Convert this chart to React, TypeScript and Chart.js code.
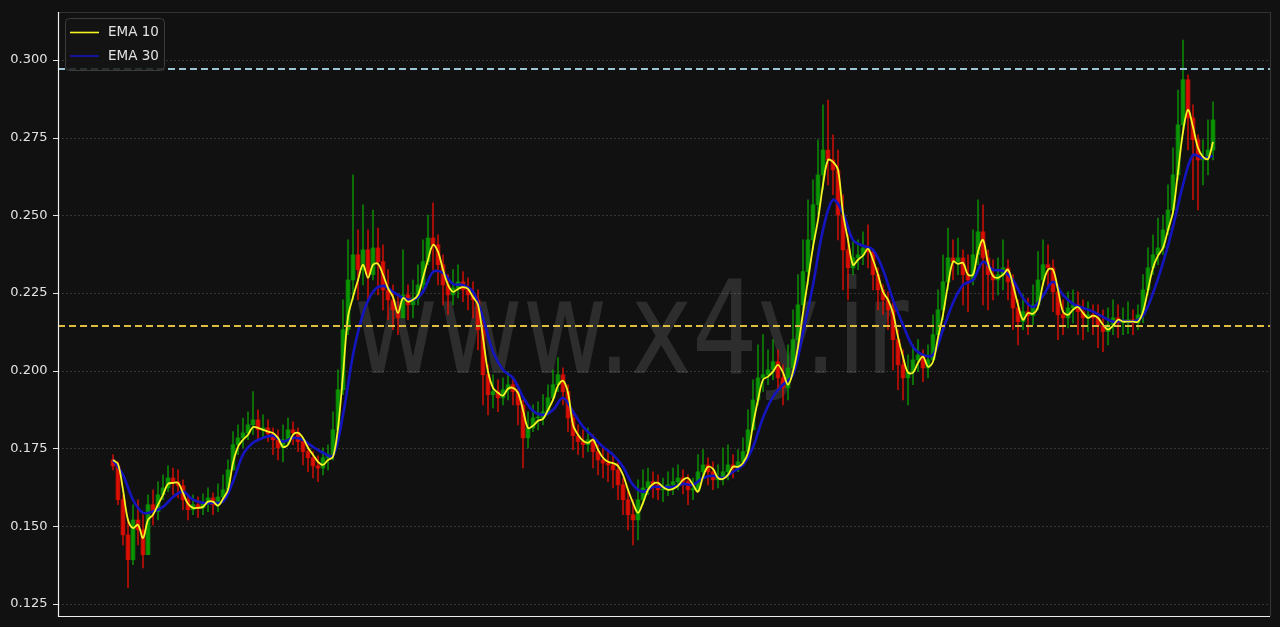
import { useEffect, useRef } from "react";
import { Chart, registerables } from "chart.js";

Chart.register(...registerables);

// One candle per session (0.0001 precision)
const opens = [
  0.1713,0.1694,0.1585,0.1472,0.1392,0.1520,0.1488,0.1408,0.1569,0.1547,
  0.1601,0.1623,0.1655,0.1643,0.1630,0.1585,0.1553,0.1569,0.1559,0.1575,
  0.1591,0.1569,0.1594,0.1617,0.1681,0.1762,0.1784,0.1800,0.1826,0.1842,
  0.1810,0.1816,0.1797,0.1778,0.1752,0.1778,0.1810,0.1800,0.1772,0.1740,
  0.1720,0.1694,0.1687,0.1720,0.1730,0.1810,0.1939,0.2132,0.2292,0.2373,
  0.2325,0.2389,0.2309,0.2395,0.2351,0.2260,0.2228,0.2196,0.2170,0.2244,
  0.2212,0.2234,0.2276,0.2351,0.2427,0.2405,0.2341,0.2276,0.2244,0.2266,
  0.2286,0.2260,0.2244,0.2228,0.2132,0.1987,0.1923,0.1933,0.1913,0.1939,
  0.1955,0.1933,0.1890,0.1784,0.1816,0.1848,0.1848,0.1868,0.1913,0.1955,
  0.1987,0.1933,0.1848,0.1791,0.1772,0.1762,0.1778,0.1740,0.1713,0.1703,
  0.1697,0.1681,0.1633,0.1585,0.1537,0.1520,0.1585,0.1623,0.1643,0.1633,
  0.1617,0.1617,0.1633,0.1643,0.1655,0.1643,0.1617,0.1617,0.1675,0.1697,
  0.1675,0.1649,0.1655,0.1675,0.1697,0.1687,0.1707,0.1740,0.1810,0.1906,
  0.1977,0.1987,0.2003,0.2029,0.1977,0.1945,0.2009,0.2100,0.2212,0.2319,
  0.2421,0.2534,0.2630,0.2710,0.2678,0.2646,0.2501,0.2389,0.2331,0.2363,
  0.2373,0.2395,0.2383,0.2309,0.2260,0.2228,0.2196,0.2100,0.2019,0.1977,
  0.1997,0.2035,0.2051,0.2009,0.2035,0.2116,0.2196,0.2286,0.2363,0.2351,
  0.2363,0.2309,0.2292,0.2373,0.2447,0.2363,0.2309,0.2292,0.2309,0.2331,
  0.2286,0.2202,0.2158,0.2190,0.2177,0.2212,0.2292,0.2341,0.2331,0.2254,
  0.2180,0.2170,0.2202,0.2212,0.2190,0.2170,0.2180,0.2170,0.2145,0.2126,
  0.2148,0.2170,0.2154,0.2158,0.2164,0.2154,0.2180,0.2260,0.2331,0.2373,
  0.2395,0.2453,0.2517,0.2630,0.2791,0.2936,0.2813,0.2743,0.2678,0.2684,
  0.2710,
];

const highs = [
  0.1730,0.1707,0.1601,0.1520,0.1569,0.1585,0.1537,0.1601,0.1617,0.1643,
  0.1665,0.1694,0.1687,0.1681,0.1649,0.1601,0.1601,0.1594,0.1604,0.1623,
  0.1607,0.1636,0.1665,0.1713,0.1804,0.1826,0.1848,0.1868,0.1933,0.1874,
  0.1858,0.1842,0.1816,0.1810,0.1826,0.1848,0.1836,0.1816,0.1784,0.1762,
  0.1740,0.1726,0.1752,0.1762,0.1868,0.2003,0.2228,0.2421,0.2630,0.2453,
  0.2534,0.2453,0.2517,0.2459,0.2405,0.2325,0.2276,0.2244,0.2389,0.2276,
  0.2292,0.2341,0.2421,0.2501,0.2540,0.2437,0.2373,0.2309,0.2325,0.2341,
  0.2319,0.2299,0.2286,0.2260,0.2164,0.2019,0.1987,0.1971,0.1977,0.1997,
  0.1977,0.1955,0.1906,0.1868,0.1890,0.1900,0.1923,0.1955,0.2003,0.2042,
  0.2009,0.1955,0.1874,0.1826,0.1810,0.1816,0.1794,0.1762,0.1752,0.1746,
  0.1730,0.1707,0.1655,0.1617,0.1585,0.1649,0.1681,0.1687,0.1675,0.1665,
  0.1655,0.1675,0.1687,0.1697,0.1681,0.1665,0.1655,0.1730,0.1746,0.1720,
  0.1707,0.1697,0.1752,0.1762,0.1730,0.1746,0.1784,0.1874,0.1971,0.2083,
  0.2116,0.2067,0.2100,0.2067,0.2019,0.2083,0.2196,0.2309,0.2421,0.2550,
  0.2614,0.2743,0.2855,0.2871,0.2759,0.2710,0.2566,0.2437,0.2421,0.2421,
  0.2447,0.2469,0.2389,0.2331,0.2276,0.2254,0.2228,0.2132,0.2067,0.2051,
  0.2083,0.2100,0.2067,0.2083,0.2180,0.2260,0.2373,0.2459,0.2421,0.2427,
  0.2389,0.2373,0.2453,0.2550,0.2534,0.2389,0.2357,0.2363,0.2421,0.2357,
  0.2309,0.2228,0.2244,0.2234,0.2276,0.2383,0.2421,0.2405,0.2357,0.2276,
  0.2228,0.2254,0.2260,0.2254,0.2228,0.2222,0.2212,0.2212,0.2196,0.2202,
  0.2228,0.2212,0.2202,0.2222,0.2196,0.2212,0.2309,0.2395,0.2437,0.2491,
  0.2501,0.2598,0.2717,0.2903,0.3064,0.2952,0.2855,0.2759,0.2743,0.2807,
  0.2865,
];

const lows = [
  0.1681,0.1569,0.1440,0.1302,0.1376,0.1440,0.1366,0.1408,0.1504,0.1520,
  0.1585,0.1611,0.1601,0.1591,0.1553,0.1520,0.1537,0.1527,0.1537,0.1547,
  0.1537,0.1547,0.1585,0.1601,0.1681,0.1730,0.1752,0.1778,0.1794,0.1778,
  0.1784,0.1772,0.1730,0.1713,0.1707,0.1762,0.1762,0.1740,0.1697,0.1675,
  0.1655,0.1643,0.1665,0.1681,0.1713,0.1794,0.1923,0.2116,0.2228,0.2228,
  0.2276,0.2228,0.2292,0.2244,0.2196,0.2164,0.2132,0.2116,0.2170,0.2164,
  0.2170,0.2212,0.2260,0.2341,0.2325,0.2276,0.2212,0.2180,0.2212,0.2234,
  0.2222,0.2196,0.2170,0.2067,0.1890,0.1858,0.1880,0.1868,0.1890,0.1906,
  0.1890,0.1826,0.1687,0.1752,0.1804,0.1810,0.1826,0.1858,0.1906,0.1933,
  0.1890,0.1804,0.1746,0.1730,0.1720,0.1740,0.1687,0.1665,0.1655,0.1643,
  0.1623,0.1585,0.1537,0.1488,0.1440,0.1456,0.1569,0.1601,0.1591,0.1585,
  0.1579,0.1598,0.1601,0.1617,0.1604,0.1569,0.1585,0.1611,0.1655,0.1633,
  0.1617,0.1623,0.1633,0.1649,0.1655,0.1675,0.1697,0.1730,0.1810,0.1890,
  0.1933,0.1955,0.1971,0.1933,0.1890,0.1906,0.1997,0.2083,0.2196,0.2276,
  0.2389,0.2501,0.2582,0.2598,0.2566,0.2421,0.2260,0.2228,0.2309,0.2325,
  0.2341,0.2331,0.2260,0.2196,0.2180,0.2132,0.2003,0.1939,0.1906,0.1890,
  0.1955,0.1997,0.1965,0.1977,0.2035,0.2100,0.2164,0.2260,0.2292,0.2309,
  0.2212,0.2190,0.2276,0.2341,0.2212,0.2196,0.2228,0.2244,0.2260,0.2228,
  0.2132,0.2083,0.2132,0.2116,0.2148,0.2196,0.2276,0.2266,0.2190,0.2100,
  0.2116,0.2138,0.2154,0.2116,0.2100,0.2126,0.2116,0.2074,0.2061,0.2083,
  0.2116,0.2106,0.2116,0.2119,0.2116,0.2132,0.2154,0.2244,0.2309,0.2341,
  0.2373,0.2437,0.2501,0.2614,0.2775,0.2710,0.2550,0.2517,0.2598,0.2630,
  0.2678,
];

const closes = [
  0.1694,0.1585,0.1472,0.1392,0.1520,0.1488,0.1408,0.1569,0.1547,0.1601,
  0.1623,0.1655,0.1643,0.1630,0.1585,0.1553,0.1569,0.1559,0.1575,0.1591,
  0.1569,0.1594,0.1617,0.1681,0.1762,0.1784,0.1800,0.1826,0.1842,0.1810,
  0.1816,0.1797,0.1778,0.1752,0.1778,0.1810,0.1800,0.1772,0.1740,0.1720,
  0.1694,0.1687,0.1720,0.1730,0.1810,0.1939,0.2132,0.2292,0.2373,0.2325,
  0.2389,0.2309,0.2395,0.2351,0.2260,0.2228,0.2196,0.2170,0.2244,0.2212,
  0.2234,0.2276,0.2351,0.2427,0.2405,0.2341,0.2276,0.2244,0.2266,0.2286,
  0.2260,0.2244,0.2228,0.2132,0.1987,0.1923,0.1933,0.1913,0.1939,0.1955,
  0.1933,0.1890,0.1784,0.1816,0.1848,0.1848,0.1868,0.1913,0.1955,0.1987,
  0.1933,0.1848,0.1791,0.1772,0.1762,0.1778,0.1740,0.1713,0.1703,0.1697,
  0.1681,0.1633,0.1585,0.1537,0.1520,0.1585,0.1623,0.1643,0.1633,0.1617,
  0.1617,0.1633,0.1643,0.1655,0.1643,0.1617,0.1617,0.1675,0.1697,0.1675,
  0.1649,0.1655,0.1675,0.1697,0.1687,0.1707,0.1740,0.1810,0.1906,0.1977,
  0.1987,0.2003,0.2029,0.1977,0.1945,0.2009,0.2100,0.2212,0.2319,0.2421,
  0.2534,0.2630,0.2710,0.2678,0.2646,0.2501,0.2389,0.2331,0.2363,0.2373,
  0.2395,0.2383,0.2309,0.2260,0.2228,0.2196,0.2100,0.2019,0.1977,0.1997,
  0.2035,0.2051,0.2009,0.2035,0.2116,0.2196,0.2286,0.2363,0.2351,0.2363,
  0.2309,0.2292,0.2373,0.2447,0.2363,0.2309,0.2292,0.2309,0.2331,0.2286,
  0.2202,0.2158,0.2190,0.2177,0.2212,0.2292,0.2341,0.2331,0.2254,0.2180,
  0.2170,0.2202,0.2212,0.2190,0.2170,0.2180,0.2170,0.2145,0.2126,0.2148,
  0.2170,0.2154,0.2158,0.2164,0.2154,0.2180,0.2260,0.2331,0.2373,0.2395,
  0.2453,0.2517,0.2630,0.2791,0.2936,0.2813,0.2743,0.2678,0.2684,0.2710,
  0.2807,
];

// EMA 10, one value per session
const ema10 = [
  0.1713,0.1700,0.1617,0.1520,0.1494,0.1504,0.1462,0.1520,0.1537,0.1569,
  0.1601,0.1636,0.1639,0.1639,0.1607,0.1572,0.1559,0.1559,0.1562,0.1579,
  0.1579,0.1566,0.1588,0.1617,0.1703,0.1755,0.1778,0.1794,0.1819,0.1816,
  0.1810,0.1804,0.1800,0.1784,0.1755,0.1762,0.1794,0.1800,0.1784,0.1752,
  0.1730,0.1707,0.1697,0.1713,0.1723,0.1816,0.1987,0.2173,0.2237,0.2292,
  0.2341,0.2299,0.2341,0.2344,0.2309,0.2266,0.2237,0.2186,0.2234,0.2222,
  0.2228,0.2244,0.2299,0.2357,0.2405,0.2383,0.2325,0.2276,0.2254,0.2263,
  0.2269,0.2263,0.2237,0.2212,0.2106,0.1997,0.1945,0.1929,0.1920,0.1942,
  0.1945,0.1929,0.1874,0.1816,0.1823,0.1839,0.1845,0.1874,0.1906,0.1952,
  0.1968,0.1929,0.1826,0.1794,0.1775,0.1768,0.1778,0.1746,0.1720,0.1707,
  0.1703,0.1694,0.1665,0.1617,0.1575,0.1543,0.1575,0.1617,0.1636,0.1639,
  0.1626,0.1617,0.1620,0.1630,0.1649,0.1655,0.1633,0.1611,0.1659,0.1691,
  0.1684,0.1655,0.1652,0.1665,0.1691,0.1691,0.1703,0.1736,0.1826,0.1906,
  0.1971,0.1981,0.1997,0.2019,0.1994,0.1955,0.1997,0.2077,0.2186,0.2292,
  0.2398,0.2485,0.2598,0.2678,0.2672,0.2646,0.2507,0.2421,0.2341,0.2357,
  0.2370,0.2392,0.2357,0.2309,0.2254,0.2228,0.2186,0.2109,0.2045,0.1994,
  0.1994,0.2025,0.2045,0.2013,0.2029,0.2106,0.2180,0.2276,0.2351,0.2344,
  0.2347,0.2309,0.2309,0.2383,0.2421,0.2347,0.2305,0.2299,0.2309,0.2325,
  0.2276,0.2212,0.2164,0.2186,0.2183,0.2205,0.2279,0.2325,0.2325,0.2260,
  0.2190,0.2180,0.2196,0.2205,0.2186,0.2170,0.2177,0.2170,0.2148,0.2132,
  0.2145,0.2164,0.2158,0.2158,0.2158,0.2158,0.2190,0.2260,0.2331,0.2370,
  0.2395,0.2453,0.2511,0.2640,0.2768,0.2839,0.2784,0.2717,0.2688,0.2681,
  0.2736,
];

// EMA 30, one value every second session
const ema30Every = 2;
const ema30 = [
  0.1713,0.1665,0.1585,0.1543,0.1547,0.1562,0.1594,0.1611,0.1585,0.1575,
  0.1575,0.1579,0.1643,0.1730,0.1768,0.1784,0.1791,0.1772,0.1784,0.1778,
  0.1755,0.1736,0.1726,0.1858,0.2051,0.2183,0.2254,0.2273,0.2254,0.2234,
  0.2228,0.2254,0.2318,0.2315,0.2279,0.2276,0.2254,0.2170,0.2061,0.2003,
  0.1977,0.1916,0.1871,0.1858,0.1874,0.1913,0.1868,0.1820,0.1788,0.1755,
  0.1730,0.1691,0.1633,0.1611,0.1626,0.1626,0.1626,0.1636,0.1633,0.1655,
  0.1662,0.1655,0.1675,0.1697,0.1755,0.1849,0.1916,0.1955,0.1987,0.2122,
  0.2276,0.2453,0.2550,0.2507,0.2421,0.2402,0.2389,0.2325,0.2228,0.2148,
  0.2077,0.2051,0.2051,0.2132,0.2218,0.2276,0.2292,0.2350,0.2325,0.2321,
  0.2292,0.2234,0.2205,0.2241,0.2286,0.2244,0.2215,0.2202,0.2190,0.2173,
  0.2158,0.2161,0.2158,0.2177,0.2250,0.2347,0.2463,0.2598,0.2694,0.2684,
  0.2691,
];

const yTicks = [0.125, 0.15, 0.175, 0.2, 0.225, 0.25, 0.275, 0.3];
const resistanceLevel = 0.2971;
const supportLevel = 0.2144;
const watermarkText = "www.x4y.ir";

const BG = "#111111";
const TEXT = "#e2e2e2";
const FONT = "'DejaVu Sans', 'Liberation Sans', sans-serif";
const UP = "rgba(10, 160, 0, 0.8)";
const DOWN = "rgba(235, 15, 0, 0.8)";

const candleColor = (i: number) => (closes[i] >= opens[i] ? UP : DOWN);

const chromePlugin = {
  id: "chrome",
  beforeDraw(chart: any) {
    const { ctx, width, height } = chart;
    ctx.save();
    ctx.fillStyle = BG;
    ctx.fillRect(0, 0, width, height);
    ctx.restore();
  },
  beforeDatasetsDraw(chart: any) {
    const { ctx, chartArea: a, scales } = chart;
    const y = scales.y;
    ctx.save();
    // dotted horizontal grid
    ctx.strokeStyle = "rgba(255,255,255,0.2)";
    ctx.lineWidth = 0.8;
    ctx.setLineDash([2, 2]);
    for (const t of yTicks) {
      const py = Math.round(y.getPixelForValue(t)) + 0.5;
      ctx.beginPath();
      ctx.moveTo(a.left, py);
      ctx.lineTo(a.right, py);
      ctx.stroke();
    }
    ctx.setLineDash([]);
    // watermark
    ctx.fillStyle = "rgba(255,255,255,0.12)";
    ctx.font = `130px ${FONT}`;
    ctx.textAlign = "center";
    ctx.textBaseline = "alphabetic";
    const w = ctx.measureText(watermarkText).width;
    ctx.translate(631, 373);
    ctx.scale(555 / w, 1);
    ctx.fillText(watermarkText, 0, 0);
    ctx.restore();
  },
  afterDatasetsDraw(chart: any) {
    const { ctx, chartArea: a, scales } = chart;
    const y = scales.y;
    ctx.save();
    // key price levels
    const levels = [
      { v: resistanceLevel, c: "#9cc6d6" },
      { v: supportLevel, c: "#dcbd3f" },
    ];
    ctx.lineWidth = 2;
    ctx.setLineDash([7, 4]);
    for (const l of levels) {
      const py = y.getPixelForValue(l.v);
      ctx.strokeStyle = l.c;
      ctx.beginPath();
      ctx.moveTo(a.left, py);
      ctx.lineTo(a.right, py);
      ctx.stroke();
    }
    ctx.setLineDash([]);

    // frame
    ctx.lineWidth = 1.2;
    ctx.strokeStyle = "#333333";
    ctx.beginPath();
    ctx.moveTo(a.left, a.top + 0.5);
    ctx.lineTo(a.right + 0.5, a.top + 0.5);
    ctx.lineTo(a.right + 0.5, a.bottom);
    ctx.stroke();
    ctx.strokeStyle = "#eeeeee";
    ctx.beginPath();
    ctx.moveTo(a.left + 0.5, a.top);
    ctx.lineTo(a.left + 0.5, a.bottom + 0.5);
    ctx.lineTo(a.right, a.bottom + 0.5);
    ctx.stroke();

    // tick marks
    ctx.lineWidth = 1;
    ctx.strokeStyle = "#dddddd";
    for (const t of yTicks) {
      const py = Math.round(y.getPixelForValue(t)) + 0.5;
      ctx.beginPath();
      ctx.moveTo(a.left - 5, py);
      ctx.lineTo(a.left, py);
      ctx.stroke();
    }

    // legend
    const lines = chart.data.datasets.filter((d: any) => d.type === "line");
    const bx = a.left + 7;
    const by = a.top + 6;
    const bw = 99;
    const bh = 52;
    ctx.fillStyle = "rgba(20,20,20,0.85)";
    ctx.strokeStyle = "#3c3c3c";
    ctx.lineWidth = 1;
    ctx.beginPath();
    ctx.roundRect(bx + 0.5, by + 0.5, bw, bh, 4);
    ctx.fill();
    ctx.stroke();
    ctx.font = `13.5px ${FONT}`;
    ctx.textAlign = "left";
    ctx.textBaseline = "middle";
    lines.forEach((d: any, k: number) => {
      const ly = by + 14.5 + k * 23.5;
      ctx.strokeStyle = d.borderColor;
      ctx.lineWidth = 1.6;
      ctx.beginPath();
      ctx.moveTo(bx + 5, ly);
      ctx.lineTo(bx + 34, ly);
      ctx.stroke();
      ctx.fillStyle = TEXT;
      ctx.fillText(d.label, bx + 43, ly);
    });
    ctx.restore();
  },
};

export default function App() {
  const canvasRef = useRef<HTMLCanvasElement | null>(null);

  useEffect(() => {
    const canvas = canvasRef.current;
    if (!canvas) return;
    const chart = new Chart(canvas, {
      type: "bar",
      data: {
        datasets: [
          {
            type: "line",
            label: "EMA 10",
            data: ema10.map((v, i) => ({ x: i, y: v })),
            borderColor: "#f5f523",
            borderWidth: 1.8,
            pointRadius: 0,
            tension: 0.35,
            order: 0,
          },
          {
            type: "line",
            label: "EMA 30",
            data: ema30.map((v, k) => ({ x: k * ema30Every, y: v })),
            borderColor: "#1515c0",
            borderWidth: 2.6,
            pointRadius: 0,
            tension: 0.35,
            order: 1,
          },
          {
            type: "bar",
            label: "body",
            data: opens.map((o, i) => ({ x: i, y: [o, closes[i]] })),
            backgroundColor: (c: any) => candleColor(c.dataIndex),
            borderWidth: 0,
            barThickness: 4,
            minBarLength: 1,
            grouped: false,
            order: 2,
          },
          {
            type: "bar",
            label: "wick",
            data: lows.map((l, i) => ({ x: i, y: [l, highs[i]] })),
            backgroundColor: (c: any) => candleColor(c.dataIndex),
            borderWidth: 0,
            barThickness: 1,
            grouped: false,
            order: 3,
          },
        ] as any,
      },
      options: {
        animation: false,
        responsive: true,
        maintainAspectRatio: false,
        layout: { padding: { top: 12, right: 10, bottom: 11, left: 0 } },
        plugins: { legend: { display: false }, tooltip: { enabled: false } },
        scales: {
          x: { type: "linear", min: -11, max: 231.4, offset: false, display: false },
          y: {
            min: 0.1211,
            max: 0.3154,
            grid: { display: false, drawTicks: false },
            border: { display: false },
            ticks: {
              color: TEXT,
              font: { family: FONT, size: 13 },
              padding: 10.5,
              callback: (v: any) => Number(v).toFixed(3),
            },
            afterBuildTicks: (s: any) => {
              s.ticks = yTicks.map((value) => ({ value }));
            },
            afterFit: (s: any) => {
              s.width = 58;
              s.paddingTop = 0;
              s.paddingBottom = 0;
            },
          },
        },
      } as any,
      plugins: [chromePlugin],
    });
    return () => chart.destroy();
  }, []);

  return (
    <div
      style={{
        position: "fixed",
        left: 0,
        top: 0,
        width: 1280,
        height: 627,
        background: BG,
      }}
    >
      <canvas ref={canvasRef} />
    </div>
  );
}
